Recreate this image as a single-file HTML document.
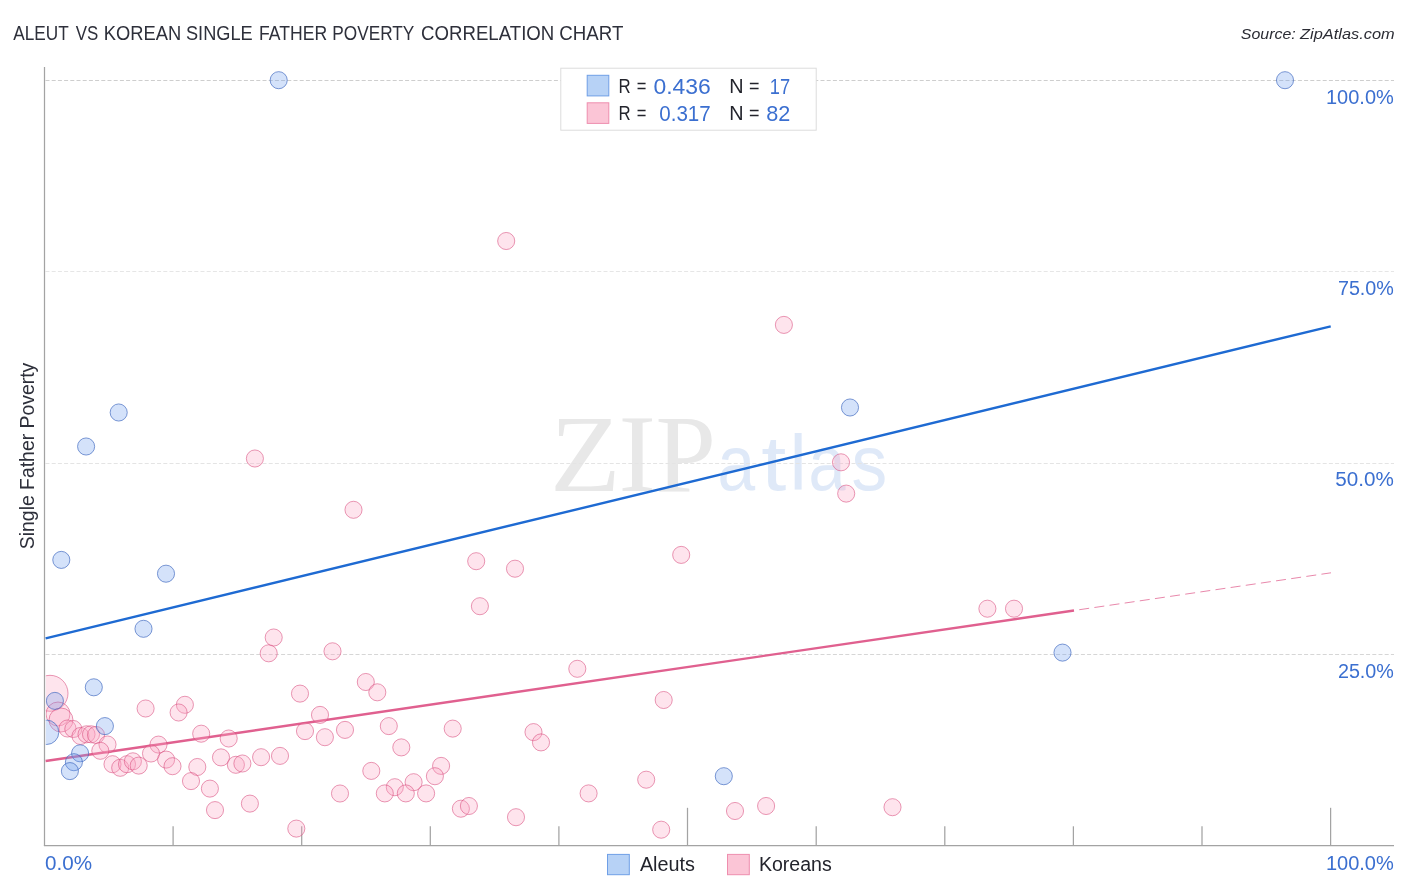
<!DOCTYPE html>
<html><head><meta charset="utf-8"><title>Aleut vs Korean Single Father Poverty Correlation Chart</title>
<style>
html,body{margin:0;padding:0;background:#fff;}
body{width:1406px;height:892px;overflow:hidden;font-family:"Liberation Sans",sans-serif;}
svg{display:block;will-change:transform;}
text{font-family:"Liberation Sans",sans-serif;}
.ser{font-family:"Liberation Serif",serif;}
</style></head><body>
<svg width="1406" height="892" viewBox="0 0 1406 892">
<rect width="1406" height="892" fill="#ffffff"/>
<defs><clipPath id="plot"><rect x="45.8" y="60" width="1360" height="790"/></clipPath></defs>
<text x="13.25" y="39.6" font-size="19.5" fill="#2e303b" textLength="55.45" lengthAdjust="spacingAndGlyphs">ALEUT</text>
<text x="75.72" y="39.6" font-size="19.5" fill="#2e303b" textLength="22.53" lengthAdjust="spacingAndGlyphs">VS</text>
<text x="103.83" y="39.6" font-size="19.5" fill="#2e303b" textLength="77.39" lengthAdjust="spacingAndGlyphs">KOREAN</text>
<text x="185.98" y="39.6" font-size="19.5" fill="#2e303b" textLength="66.70" lengthAdjust="spacingAndGlyphs">SINGLE</text>
<text x="259.09" y="39.6" font-size="19.5" fill="#2e303b" textLength="68.01" lengthAdjust="spacingAndGlyphs">FATHER</text>
<text x="332.32" y="39.6" font-size="19.5" fill="#2e303b" textLength="82.04" lengthAdjust="spacingAndGlyphs">POVERTY</text>
<text x="421.07" y="39.6" font-size="19.5" fill="#2e303b" textLength="133.20" lengthAdjust="spacingAndGlyphs">CORRELATION</text>
<text x="559.37" y="39.6" font-size="19.5" fill="#2e303b" textLength="63.93" lengthAdjust="spacingAndGlyphs">CHART</text>
<text x="1240.82" y="38.8" font-size="15.5" fill="#2b2c34" font-style="italic" textLength="54.86" lengthAdjust="spacingAndGlyphs">Source:</text>
<text x="1300.13" y="38.8" font-size="15.5" fill="#2b2c34" font-style="italic" textLength="94.60" lengthAdjust="spacingAndGlyphs">ZipAtlas.com</text>
<text class="ser" x="549.99" y="490.7" font-size="111" fill="#e8e8e8" textLength="70.69" lengthAdjust="spacingAndGlyphs">Z</text>
<text class="ser" x="618.56" y="490.7" font-size="111" fill="#e8e8e8" textLength="37.45" lengthAdjust="spacingAndGlyphs">I</text>
<text class="ser" x="655.58" y="490.7" font-size="111" fill="#e8e8e8" textLength="60.45" lengthAdjust="spacingAndGlyphs">P</text>
<text x="717.49" y="490.4" font-size="77" fill="#dfe9f8" textLength="37.65" lengthAdjust="spacingAndGlyphs">a</text>
<text x="761.15" y="490.4" font-size="77" fill="#dfe9f8" textLength="25.06" lengthAdjust="spacingAndGlyphs">t</text>
<text x="789.44" y="490.4" font-size="77" fill="#dfe9f8" textLength="17.28" lengthAdjust="spacingAndGlyphs">l</text>
<text x="808.44" y="490.4" font-size="77" fill="#dfe9f8" textLength="37.01" lengthAdjust="spacingAndGlyphs">a</text>
<text x="851.62" y="490.4" font-size="77" fill="#dfe9f8" textLength="35.68" lengthAdjust="spacingAndGlyphs">s</text>
<line x1="45.5" y1="80.5" x2="1394" y2="80.5" stroke="#cecece" stroke-width="1" stroke-dasharray="4,2.2"/>
<line x1="45.5" y1="271.5" x2="1394" y2="271.5" stroke="#e6e6e6" stroke-width="1" stroke-dasharray="4,2.2"/>
<line x1="45.5" y1="463.5" x2="1394" y2="463.5" stroke="#e4e4e4" stroke-width="1" stroke-dasharray="4,2.2"/>
<line x1="45.5" y1="654.5" x2="1394" y2="654.5" stroke="#d6d6d6" stroke-width="1" stroke-dasharray="4,2.2"/>
<line x1="44.5" y1="67" x2="44.5" y2="846.1" stroke="#a3a3a3" stroke-width="1.25"/>
<line x1="43.9" y1="845.5" x2="1394" y2="845.5" stroke="#a3a3a3" stroke-width="1.25"/>
<line x1="173.1" y1="826.3" x2="173.1" y2="845.5" stroke="#a3a3a3" stroke-width="1.25"/>
<line x1="301.7" y1="826.3" x2="301.7" y2="845.5" stroke="#a3a3a3" stroke-width="1.25"/>
<line x1="430.3" y1="826.3" x2="430.3" y2="845.5" stroke="#a3a3a3" stroke-width="1.25"/>
<line x1="558.9" y1="826.3" x2="558.9" y2="845.5" stroke="#a3a3a3" stroke-width="1.25"/>
<line x1="687.5" y1="807.8" x2="687.5" y2="845.5" stroke="#a3a3a3" stroke-width="1.25"/>
<line x1="816.2" y1="826.3" x2="816.2" y2="845.5" stroke="#a3a3a3" stroke-width="1.25"/>
<line x1="944.8" y1="826.3" x2="944.8" y2="845.5" stroke="#a3a3a3" stroke-width="1.25"/>
<line x1="1073.4" y1="826.3" x2="1073.4" y2="845.5" stroke="#a3a3a3" stroke-width="1.25"/>
<line x1="1202.0" y1="826.3" x2="1202.0" y2="845.5" stroke="#a3a3a3" stroke-width="1.25"/>
<line x1="1330.6" y1="807.8" x2="1330.6" y2="845.5" stroke="#a3a3a3" stroke-width="1.25"/>
<text x="1326.00" y="103.8" font-size="19.6" fill="#3b6fd0" textLength="67.83" lengthAdjust="spacingAndGlyphs">100.0%</text>
<text x="1337.91" y="295.1" font-size="19.6" fill="#3b6fd0" textLength="55.99" lengthAdjust="spacingAndGlyphs">75.0%</text>
<text x="1335.37" y="486.3" font-size="19.6" fill="#3b6fd0" textLength="58.56" lengthAdjust="spacingAndGlyphs">50.0%</text>
<text x="1337.91" y="677.5" font-size="19.6" fill="#3b6fd0" textLength="55.99" lengthAdjust="spacingAndGlyphs">25.0%</text>
<text x="45.08" y="870.2" font-size="19.6" fill="#3b6fd0" textLength="47.03" lengthAdjust="spacingAndGlyphs">0.0%</text>
<text x="1325.90" y="870.2" font-size="19.6" fill="#3b6fd0" textLength="67.94" lengthAdjust="spacingAndGlyphs">100.0%</text>
<text transform="translate(34.1,548.3) rotate(-90)" x="-0.87" y="0" font-size="19.5" fill="#2e303b" textLength="186.39" lengthAdjust="spacingAndGlyphs">Single Father Poverty</text>
<line x1="45.6" y1="638.35" x2="1330.7" y2="326.35" stroke="#1e6ad2" stroke-width="2.4"/>
<line x1="45.6" y1="761" x2="1074" y2="610.5" stroke="#e0608f" stroke-width="2.4"/>
<line x1="1074" y1="610.5" x2="1331" y2="572.8" stroke="#e0608f" stroke-opacity="0.75" stroke-width="1" stroke-dasharray="10,5.3" stroke-dashoffset="10"/>
<g clip-path="url(#plot)">
<circle cx="506.2" cy="241" r="8.55" fill="#fba4c4" fill-opacity="0.3" stroke="#d9507f" stroke-opacity="0.58" stroke-width="1"/>
<circle cx="783.9" cy="324.9" r="8.55" fill="#fba4c4" fill-opacity="0.3" stroke="#d9507f" stroke-opacity="0.58" stroke-width="1"/>
<circle cx="254.9" cy="458.5" r="8.55" fill="#fba4c4" fill-opacity="0.3" stroke="#d9507f" stroke-opacity="0.58" stroke-width="1"/>
<circle cx="353.5" cy="509.8" r="8.55" fill="#fba4c4" fill-opacity="0.3" stroke="#d9507f" stroke-opacity="0.58" stroke-width="1"/>
<circle cx="841" cy="462.3" r="8.55" fill="#fba4c4" fill-opacity="0.3" stroke="#d9507f" stroke-opacity="0.58" stroke-width="1"/>
<circle cx="846.2" cy="493.6" r="8.55" fill="#fba4c4" fill-opacity="0.3" stroke="#d9507f" stroke-opacity="0.58" stroke-width="1"/>
<circle cx="476.2" cy="561.2" r="8.55" fill="#fba4c4" fill-opacity="0.3" stroke="#d9507f" stroke-opacity="0.58" stroke-width="1"/>
<circle cx="515" cy="568.7" r="8.55" fill="#fba4c4" fill-opacity="0.3" stroke="#d9507f" stroke-opacity="0.58" stroke-width="1"/>
<circle cx="681.2" cy="554.9" r="8.55" fill="#fba4c4" fill-opacity="0.3" stroke="#d9507f" stroke-opacity="0.58" stroke-width="1"/>
<circle cx="479.9" cy="606.2" r="8.55" fill="#fba4c4" fill-opacity="0.3" stroke="#d9507f" stroke-opacity="0.58" stroke-width="1"/>
<circle cx="987.4" cy="608.7" r="8.55" fill="#fba4c4" fill-opacity="0.3" stroke="#d9507f" stroke-opacity="0.58" stroke-width="1"/>
<circle cx="1014" cy="608.7" r="8.55" fill="#fba4c4" fill-opacity="0.3" stroke="#d9507f" stroke-opacity="0.58" stroke-width="1"/>
<circle cx="273.7" cy="637.5" r="8.55" fill="#fba4c4" fill-opacity="0.3" stroke="#d9507f" stroke-opacity="0.58" stroke-width="1"/>
<circle cx="268.7" cy="653.3" r="8.55" fill="#fba4c4" fill-opacity="0.3" stroke="#d9507f" stroke-opacity="0.58" stroke-width="1"/>
<circle cx="332.5" cy="651.3" r="8.55" fill="#fba4c4" fill-opacity="0.3" stroke="#d9507f" stroke-opacity="0.58" stroke-width="1"/>
<circle cx="577.3" cy="668.8" r="8.55" fill="#fba4c4" fill-opacity="0.3" stroke="#d9507f" stroke-opacity="0.58" stroke-width="1"/>
<circle cx="50" cy="693.3" r="18" fill="#fba4c4" fill-opacity="0.3" stroke="#d9507f" stroke-opacity="0.58" stroke-width="1"/>
<circle cx="58" cy="714" r="12" fill="#fba4c4" fill-opacity="0.3" stroke="#d9507f" stroke-opacity="0.58" stroke-width="1"/>
<circle cx="61" cy="720" r="12" fill="#fba4c4" fill-opacity="0.3" stroke="#d9507f" stroke-opacity="0.58" stroke-width="1"/>
<circle cx="67.5" cy="728.5" r="8.55" fill="#fba4c4" fill-opacity="0.3" stroke="#d9507f" stroke-opacity="0.58" stroke-width="1"/>
<circle cx="73.3" cy="729" r="8.55" fill="#fba4c4" fill-opacity="0.3" stroke="#d9507f" stroke-opacity="0.58" stroke-width="1"/>
<circle cx="80.5" cy="736" r="8.55" fill="#fba4c4" fill-opacity="0.3" stroke="#d9507f" stroke-opacity="0.58" stroke-width="1"/>
<circle cx="86.5" cy="734.3" r="8.55" fill="#fba4c4" fill-opacity="0.3" stroke="#d9507f" stroke-opacity="0.58" stroke-width="1"/>
<circle cx="91" cy="734.3" r="8.55" fill="#fba4c4" fill-opacity="0.3" stroke="#d9507f" stroke-opacity="0.58" stroke-width="1"/>
<circle cx="96" cy="735" r="8.55" fill="#fba4c4" fill-opacity="0.3" stroke="#d9507f" stroke-opacity="0.58" stroke-width="1"/>
<circle cx="107.5" cy="744.5" r="8.55" fill="#fba4c4" fill-opacity="0.3" stroke="#d9507f" stroke-opacity="0.58" stroke-width="1"/>
<circle cx="100.3" cy="750.8" r="8.55" fill="#fba4c4" fill-opacity="0.3" stroke="#d9507f" stroke-opacity="0.58" stroke-width="1"/>
<circle cx="145.6" cy="708.5" r="8.55" fill="#fba4c4" fill-opacity="0.3" stroke="#d9507f" stroke-opacity="0.58" stroke-width="1"/>
<circle cx="184.9" cy="704.8" r="8.55" fill="#fba4c4" fill-opacity="0.3" stroke="#d9507f" stroke-opacity="0.58" stroke-width="1"/>
<circle cx="178.6" cy="712.5" r="8.55" fill="#fba4c4" fill-opacity="0.3" stroke="#d9507f" stroke-opacity="0.58" stroke-width="1"/>
<circle cx="300" cy="693.6" r="8.55" fill="#fba4c4" fill-opacity="0.3" stroke="#d9507f" stroke-opacity="0.58" stroke-width="1"/>
<circle cx="320" cy="714.9" r="8.55" fill="#fba4c4" fill-opacity="0.3" stroke="#d9507f" stroke-opacity="0.58" stroke-width="1"/>
<circle cx="201.2" cy="733.7" r="8.55" fill="#fba4c4" fill-opacity="0.3" stroke="#d9507f" stroke-opacity="0.58" stroke-width="1"/>
<circle cx="228.7" cy="738.5" r="8.55" fill="#fba4c4" fill-opacity="0.3" stroke="#d9507f" stroke-opacity="0.58" stroke-width="1"/>
<circle cx="305" cy="731.1" r="8.55" fill="#fba4c4" fill-opacity="0.3" stroke="#d9507f" stroke-opacity="0.58" stroke-width="1"/>
<circle cx="324.9" cy="737.2" r="8.55" fill="#fba4c4" fill-opacity="0.3" stroke="#d9507f" stroke-opacity="0.58" stroke-width="1"/>
<circle cx="345" cy="729.9" r="8.55" fill="#fba4c4" fill-opacity="0.3" stroke="#d9507f" stroke-opacity="0.58" stroke-width="1"/>
<circle cx="158.5" cy="744.6" r="8.55" fill="#fba4c4" fill-opacity="0.3" stroke="#d9507f" stroke-opacity="0.58" stroke-width="1"/>
<circle cx="151" cy="753.5" r="8.55" fill="#fba4c4" fill-opacity="0.3" stroke="#d9507f" stroke-opacity="0.58" stroke-width="1"/>
<circle cx="166.1" cy="759.6" r="8.55" fill="#fba4c4" fill-opacity="0.3" stroke="#d9507f" stroke-opacity="0.58" stroke-width="1"/>
<circle cx="172.5" cy="766.2" r="8.55" fill="#fba4c4" fill-opacity="0.3" stroke="#d9507f" stroke-opacity="0.58" stroke-width="1"/>
<circle cx="112.5" cy="764.2" r="8.55" fill="#fba4c4" fill-opacity="0.3" stroke="#d9507f" stroke-opacity="0.58" stroke-width="1"/>
<circle cx="120.2" cy="767.8" r="8.55" fill="#fba4c4" fill-opacity="0.3" stroke="#d9507f" stroke-opacity="0.58" stroke-width="1"/>
<circle cx="127" cy="764.2" r="8.55" fill="#fba4c4" fill-opacity="0.3" stroke="#d9507f" stroke-opacity="0.58" stroke-width="1"/>
<circle cx="132.9" cy="761.3" r="8.55" fill="#fba4c4" fill-opacity="0.3" stroke="#d9507f" stroke-opacity="0.58" stroke-width="1"/>
<circle cx="138.7" cy="765.6" r="8.55" fill="#fba4c4" fill-opacity="0.3" stroke="#d9507f" stroke-opacity="0.58" stroke-width="1"/>
<circle cx="197.3" cy="767" r="8.55" fill="#fba4c4" fill-opacity="0.3" stroke="#d9507f" stroke-opacity="0.58" stroke-width="1"/>
<circle cx="221" cy="757.4" r="8.55" fill="#fba4c4" fill-opacity="0.3" stroke="#d9507f" stroke-opacity="0.58" stroke-width="1"/>
<circle cx="235.9" cy="764.8" r="8.55" fill="#fba4c4" fill-opacity="0.3" stroke="#d9507f" stroke-opacity="0.58" stroke-width="1"/>
<circle cx="242.4" cy="763.5" r="8.55" fill="#fba4c4" fill-opacity="0.3" stroke="#d9507f" stroke-opacity="0.58" stroke-width="1"/>
<circle cx="261.1" cy="757.2" r="8.55" fill="#fba4c4" fill-opacity="0.3" stroke="#d9507f" stroke-opacity="0.58" stroke-width="1"/>
<circle cx="280" cy="755.9" r="8.55" fill="#fba4c4" fill-opacity="0.3" stroke="#d9507f" stroke-opacity="0.58" stroke-width="1"/>
<circle cx="191" cy="781.1" r="8.55" fill="#fba4c4" fill-opacity="0.3" stroke="#d9507f" stroke-opacity="0.58" stroke-width="1"/>
<circle cx="209.9" cy="788.6" r="8.55" fill="#fba4c4" fill-opacity="0.3" stroke="#d9507f" stroke-opacity="0.58" stroke-width="1"/>
<circle cx="215" cy="810.1" r="8.55" fill="#fba4c4" fill-opacity="0.3" stroke="#d9507f" stroke-opacity="0.58" stroke-width="1"/>
<circle cx="249.9" cy="803.6" r="8.55" fill="#fba4c4" fill-opacity="0.3" stroke="#d9507f" stroke-opacity="0.58" stroke-width="1"/>
<circle cx="340" cy="793.5" r="8.55" fill="#fba4c4" fill-opacity="0.3" stroke="#d9507f" stroke-opacity="0.58" stroke-width="1"/>
<circle cx="296.3" cy="828.6" r="8.55" fill="#fba4c4" fill-opacity="0.3" stroke="#d9507f" stroke-opacity="0.58" stroke-width="1"/>
<circle cx="365.8" cy="682" r="8.55" fill="#fba4c4" fill-opacity="0.3" stroke="#d9507f" stroke-opacity="0.58" stroke-width="1"/>
<circle cx="377.3" cy="692.3" r="8.55" fill="#fba4c4" fill-opacity="0.3" stroke="#d9507f" stroke-opacity="0.58" stroke-width="1"/>
<circle cx="663.7" cy="700" r="8.55" fill="#fba4c4" fill-opacity="0.3" stroke="#d9507f" stroke-opacity="0.58" stroke-width="1"/>
<circle cx="388.8" cy="726.1" r="8.55" fill="#fba4c4" fill-opacity="0.3" stroke="#d9507f" stroke-opacity="0.58" stroke-width="1"/>
<circle cx="452.7" cy="728.6" r="8.55" fill="#fba4c4" fill-opacity="0.3" stroke="#d9507f" stroke-opacity="0.58" stroke-width="1"/>
<circle cx="533.5" cy="732.1" r="8.55" fill="#fba4c4" fill-opacity="0.3" stroke="#d9507f" stroke-opacity="0.58" stroke-width="1"/>
<circle cx="541" cy="742.4" r="8.55" fill="#fba4c4" fill-opacity="0.3" stroke="#d9507f" stroke-opacity="0.58" stroke-width="1"/>
<circle cx="401.3" cy="747.4" r="8.55" fill="#fba4c4" fill-opacity="0.3" stroke="#d9507f" stroke-opacity="0.58" stroke-width="1"/>
<circle cx="371.3" cy="770.9" r="8.55" fill="#fba4c4" fill-opacity="0.3" stroke="#d9507f" stroke-opacity="0.58" stroke-width="1"/>
<circle cx="441.1" cy="765.9" r="8.55" fill="#fba4c4" fill-opacity="0.3" stroke="#d9507f" stroke-opacity="0.58" stroke-width="1"/>
<circle cx="434.9" cy="776.2" r="8.55" fill="#fba4c4" fill-opacity="0.3" stroke="#d9507f" stroke-opacity="0.58" stroke-width="1"/>
<circle cx="413.6" cy="782.2" r="8.55" fill="#fba4c4" fill-opacity="0.3" stroke="#d9507f" stroke-opacity="0.58" stroke-width="1"/>
<circle cx="394.8" cy="787.2" r="8.55" fill="#fba4c4" fill-opacity="0.3" stroke="#d9507f" stroke-opacity="0.58" stroke-width="1"/>
<circle cx="384.8" cy="793.4" r="8.55" fill="#fba4c4" fill-opacity="0.3" stroke="#d9507f" stroke-opacity="0.58" stroke-width="1"/>
<circle cx="405.8" cy="793.4" r="8.55" fill="#fba4c4" fill-opacity="0.3" stroke="#d9507f" stroke-opacity="0.58" stroke-width="1"/>
<circle cx="426.1" cy="793.4" r="8.55" fill="#fba4c4" fill-opacity="0.3" stroke="#d9507f" stroke-opacity="0.58" stroke-width="1"/>
<circle cx="460.9" cy="808.7" r="8.55" fill="#fba4c4" fill-opacity="0.3" stroke="#d9507f" stroke-opacity="0.58" stroke-width="1"/>
<circle cx="468.9" cy="806" r="8.55" fill="#fba4c4" fill-opacity="0.3" stroke="#d9507f" stroke-opacity="0.58" stroke-width="1"/>
<circle cx="516" cy="817.2" r="8.55" fill="#fba4c4" fill-opacity="0.3" stroke="#d9507f" stroke-opacity="0.58" stroke-width="1"/>
<circle cx="588.6" cy="793.4" r="8.55" fill="#fba4c4" fill-opacity="0.3" stroke="#d9507f" stroke-opacity="0.58" stroke-width="1"/>
<circle cx="646.2" cy="779.7" r="8.55" fill="#fba4c4" fill-opacity="0.3" stroke="#d9507f" stroke-opacity="0.58" stroke-width="1"/>
<circle cx="661.2" cy="829.7" r="8.55" fill="#fba4c4" fill-opacity="0.3" stroke="#d9507f" stroke-opacity="0.58" stroke-width="1"/>
<circle cx="735" cy="811" r="8.55" fill="#fba4c4" fill-opacity="0.3" stroke="#d9507f" stroke-opacity="0.58" stroke-width="1"/>
<circle cx="766.1" cy="806" r="8.55" fill="#fba4c4" fill-opacity="0.3" stroke="#d9507f" stroke-opacity="0.58" stroke-width="1"/>
<circle cx="892.5" cy="807.2" r="8.55" fill="#fba4c4" fill-opacity="0.3" stroke="#d9507f" stroke-opacity="0.58" stroke-width="1"/>
<circle cx="278.7" cy="80.2" r="8.55" fill="#6fa0f0" fill-opacity="0.3" stroke="#3f68c0" stroke-opacity="0.68" stroke-width="1"/>
<circle cx="1285" cy="80.2" r="8.55" fill="#6fa0f0" fill-opacity="0.3" stroke="#3f68c0" stroke-opacity="0.68" stroke-width="1"/>
<circle cx="118.7" cy="412.5" r="8.55" fill="#6fa0f0" fill-opacity="0.3" stroke="#3f68c0" stroke-opacity="0.68" stroke-width="1"/>
<circle cx="86.1" cy="446.5" r="8.55" fill="#6fa0f0" fill-opacity="0.3" stroke="#3f68c0" stroke-opacity="0.68" stroke-width="1"/>
<circle cx="850" cy="407.5" r="8.55" fill="#6fa0f0" fill-opacity="0.3" stroke="#3f68c0" stroke-opacity="0.68" stroke-width="1"/>
<circle cx="61.3" cy="559.9" r="8.55" fill="#6fa0f0" fill-opacity="0.3" stroke="#3f68c0" stroke-opacity="0.68" stroke-width="1"/>
<circle cx="166" cy="573.7" r="8.55" fill="#6fa0f0" fill-opacity="0.3" stroke="#3f68c0" stroke-opacity="0.68" stroke-width="1"/>
<circle cx="143.5" cy="628.8" r="8.55" fill="#6fa0f0" fill-opacity="0.3" stroke="#3f68c0" stroke-opacity="0.68" stroke-width="1"/>
<circle cx="1062.5" cy="652.6" r="8.55" fill="#6fa0f0" fill-opacity="0.3" stroke="#3f68c0" stroke-opacity="0.68" stroke-width="1"/>
<circle cx="93.8" cy="687.3" r="8.55" fill="#6fa0f0" fill-opacity="0.3" stroke="#3f68c0" stroke-opacity="0.68" stroke-width="1"/>
<circle cx="54.9" cy="700.9" r="8.55" fill="#6fa0f0" fill-opacity="0.3" stroke="#3f68c0" stroke-opacity="0.68" stroke-width="1"/>
<circle cx="104.9" cy="726.1" r="8.55" fill="#6fa0f0" fill-opacity="0.3" stroke="#3f68c0" stroke-opacity="0.68" stroke-width="1"/>
<circle cx="46.6" cy="732.3" r="12.2" fill="#6fa0f0" fill-opacity="0.3" stroke="#3f68c0" stroke-opacity="0.68" stroke-width="1"/>
<circle cx="80.1" cy="753.3" r="8.55" fill="#6fa0f0" fill-opacity="0.3" stroke="#3f68c0" stroke-opacity="0.68" stroke-width="1"/>
<circle cx="73.9" cy="762.2" r="8.55" fill="#6fa0f0" fill-opacity="0.3" stroke="#3f68c0" stroke-opacity="0.68" stroke-width="1"/>
<circle cx="69.9" cy="771.1" r="8.55" fill="#6fa0f0" fill-opacity="0.3" stroke="#3f68c0" stroke-opacity="0.68" stroke-width="1"/>
<circle cx="723.8" cy="776.2" r="8.55" fill="#6fa0f0" fill-opacity="0.3" stroke="#3f68c0" stroke-opacity="0.68" stroke-width="1"/>
</g>
<rect x="560.8" y="68.2" width="255.4" height="62" fill="#ffffff" stroke="#dcdcdc" stroke-width="1"/>
<rect x="587.2" y="75.3" width="21.6" height="20.6" fill="#b7d2f6" stroke="#6f9fe6" stroke-width="1"/>
<rect x="587.2" y="102.8" width="21.6" height="20.6" fill="#fbc5d6" stroke="#ee8eae" stroke-width="1"/>
<text x="618.46" y="93.0" font-size="19.6" fill="#23242c" textLength="12.14" lengthAdjust="spacingAndGlyphs">R</text>
<text x="636.66" y="93.0" font-size="19.6" fill="#23242c" textLength="9.65" lengthAdjust="spacingAndGlyphs">=</text>
<text x="653.40" y="93.5" font-size="21.8" fill="#3b6fd0" textLength="57.38" lengthAdjust="spacingAndGlyphs">0.436</text>
<text x="729.31" y="93.0" font-size="19.6" fill="#23242c" textLength="14.31" lengthAdjust="spacingAndGlyphs">N</text>
<text x="748.99" y="93.0" font-size="19.6" fill="#23242c" textLength="10.49" lengthAdjust="spacingAndGlyphs">=</text>
<text x="769.83" y="93.5" font-size="21.8" fill="#3b6fd0" textLength="20.34" lengthAdjust="spacingAndGlyphs">17</text>
<text x="618.46" y="120.0" font-size="19.6" fill="#23242c" textLength="12.14" lengthAdjust="spacingAndGlyphs">R</text>
<text x="636.66" y="120.0" font-size="19.6" fill="#23242c" textLength="9.65" lengthAdjust="spacingAndGlyphs">=</text>
<text x="659.28" y="120.5" font-size="21.8" fill="#3b6fd0" textLength="51.50" lengthAdjust="spacingAndGlyphs">0.317</text>
<text x="729.31" y="120.0" font-size="19.6" fill="#23242c" textLength="14.31" lengthAdjust="spacingAndGlyphs">N</text>
<text x="748.99" y="120.0" font-size="19.6" fill="#23242c" textLength="10.49" lengthAdjust="spacingAndGlyphs">=</text>
<text x="766.23" y="120.5" font-size="21.8" fill="#3b6fd0" textLength="24.09" lengthAdjust="spacingAndGlyphs">82</text>
<rect x="607.5" y="854.4" width="21.8" height="20.3" fill="#b7d2f6" stroke="#6f9fe6" stroke-width="1"/>
<text x="639.90" y="870.8" font-size="19.4" fill="#23242c" textLength="55.08" lengthAdjust="spacingAndGlyphs">Aleuts</text>
<rect x="727.5" y="854.4" width="21.8" height="20.3" fill="#fbc5d6" stroke="#ee8eae" stroke-width="1"/>
<text x="758.94" y="870.8" font-size="19.4" fill="#23242c" textLength="72.84" lengthAdjust="spacingAndGlyphs">Koreans</text>
</svg>
</body></html>
